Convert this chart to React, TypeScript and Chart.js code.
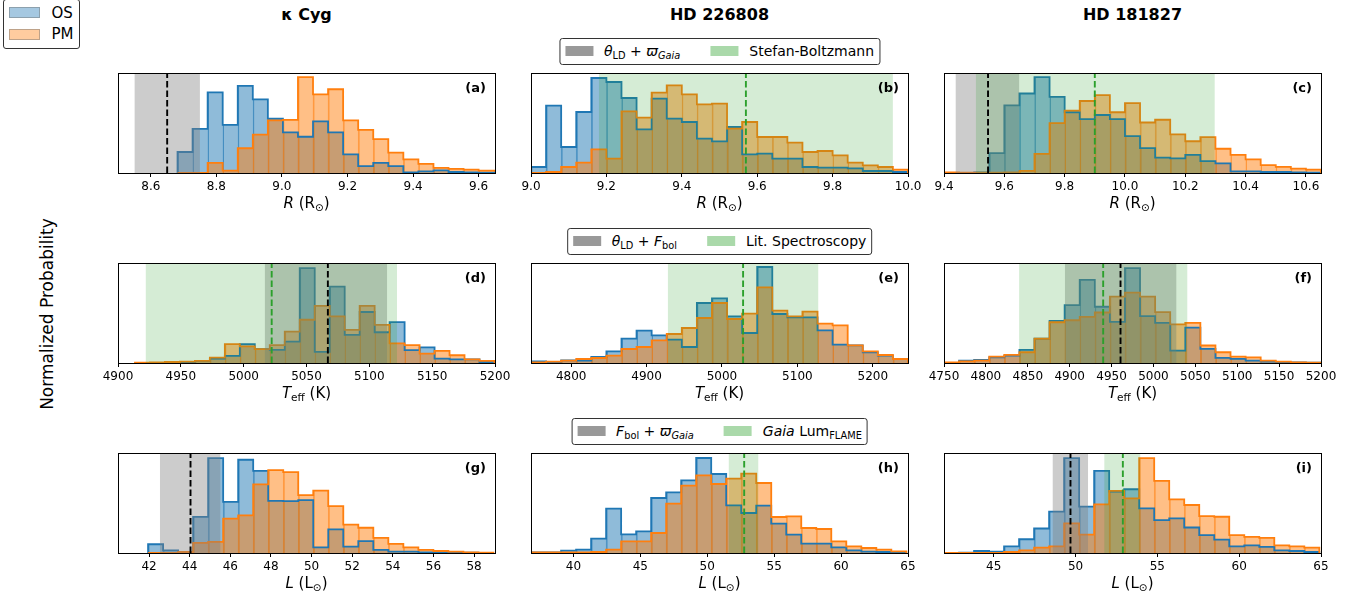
import React, { useEffect, useRef } from "react";
import { Chart, registerables } from "chart.js";

Chart.register(...registerables);

const FONT = "'DejaVu Sans', 'Liberation Sans', sans-serif";
const BLUE = "#1f77b4";
const ORANGE = "#ff7f0e";
const BLUE_FILL = "rgba(31,119,180,0.5)";
const ORANGE_FILL = "rgba(255,127,14,0.5)";
const BLUE_SEAM = "rgba(31,119,180,0.75)";
const ORANGE_SEAM = "rgba(255,127,14,0.75)";
const GRAY_BAND = "rgba(128,128,128,0.4)";
const GREEN_BAND = "rgba(44,160,44,0.2)";
const GREEN_LINE = "#2ca02c";

// ---------------- data ----------------
const STAR_NAMES = ["κ Cyg", "HD 226808", "HD 181827"];
const PANEL_LABELS = ["(a)", "(b)", "(c)", "(d)", "(e)", "(f)", "(g)", "(h)", "(i)"];

// (a) kappa Cyg radius
const A_BIN0 = 8.6816;
const A_BINW = 0.04592;
const A_OS = [62, 130, 238, 142, 257, 217, 160, 120, 107, 152, 120, 55, 20, 30, 20, 2, 5, 8, 3, 2, 1, 1];
const A_PM = [0, 0, 30, 7, 73, 113, 155, 157, 283, 232, 247, 155, 127, 100, 60, 40, 27, 15, 12, 10, 7, 7];
const A_XLIM = [8.5, 9.65];
const A_TICKS = [8.6, 8.8, 9.0, 9.2, 9.4, 9.6];
const A_YMAX = 295;
const A_GRAY = [8.55, 8.75];
const A_GRAY_MID = 8.65;

// (b) HD 226808 radius
const B_BIN0 = 9.0;
const B_BINW = 0.04;
const B_OS = [18, 202, 78, 183, 285, 273, 225, 131, 223, 163, 153, 103, 95, 138, 56, 58, 43, 43, 18, 16, 16, 14, 6, 6, 3];
const B_PM = [0, 3, 18, 31, 71, 43, 185, 166, 241, 263, 236, 206, 208, 133, 153, 108, 108, 91, 63, 66, 53, 31, 23, 18, 10];
const B_XLIM = [9.0, 10.0];
const B_TICKS = [9.0, 9.2, 9.4, 9.6, 9.8, 10.0];
const B_YMAX = 300;
const B_GREEN = [9.18, 9.96];
const B_GREEN_MID = 9.57;

// (c) HD 181827 radius
const C_BIN0 = 9.4;
const C_BINW = 0.05;
const C_OS = [0, 0, 2, 58, 198, 233, 281, 223, 178, 158, 170, 158, 108, 73, 45, 43, 53, 35, 28, 5, 5, 3, 3, 2, 1];
const C_PM = [2, 1, 1, 1, 2, 6, 56, 146, 183, 211, 228, 178, 205, 148, 156, 113, 93, 105, 71, 53, 40, 23, 18, 13, 10];
const C_XLIM = [9.4, 10.65];
const C_TICKS = [9.4, 9.6, 9.8, 10.0, 10.2, 10.4, 10.6];
const C_YMAX = 293;
const C_GRAY = [9.438, 9.65];
const C_GRAY_MID = 9.546;
const C_GREEN = [9.505, 10.298];
const C_GREEN_MID = 9.9;

// (d) kappa Cyg Teff
const D_BIN0 = 4913.5;
const D_BINW = 11.92;
const D_OS = [0, 0, 1, 3, 6, 13, 21, 56, 41, 39, 63, 281, 33, 226, 83, 151, 91, 121, 38, 46, 13, 11, 11, 3];
const D_PM = [1, 2, 3, 4, 6, 16, 56, 49, 41, 53, 93, 128, 169, 138, 98, 169, 113, 58, 53, 28, 36, 23, 11, 6];
const D_XLIM = [4900, 5200];
const D_TICKS = [4900, 4950, 5000, 5050, 5100, 5150, 5200];
const D_YMAX = 296;
const D_GRAY = [5016.7, 5114.2];
const D_GRAY_MID = 5067;
const D_GREEN = [4921.9, 5122.1];
const D_GREEN_MID = 5022.3;

// (e) HD 226808 Teff
const E_BIN0 = 4746.7;
const E_BINW = 20;
const E_OS = [5, 3, 8, 7, 18, 35, 73, 97, 83, 70, 48, 180, 194, 140, 90, 288, 147, 137, 137, 98, 55, 53, 32, 22, 12];
const E_PM = [2, 4, 7, 12, 15, 22, 42, 48, 68, 87, 105, 135, 180, 132, 148, 227, 157, 140, 154, 118, 113, 53, 35, 24, 12];
const E_XLIM = [4746.7, 5246.7];
const E_TICKS = [4800, 4900, 5000, 5100, 5200];
const E_YMAX = 300;
const E_GREEN = [4928, 5128];
const E_GREEN_MID = 5028;

// (f) HD 181827 Teff
const F_BIN0 = 4750;
const F_BINW = 18;
const F_OS = [0, 7, 9, 17, 22, 39, 72, 125, 172, 247, 167, 122, 282, 139, 119, 37, 105, 42, 15, 12, 7, 4, 2, 2, 1];
const F_PM = [2, 5, 7, 19, 24, 32, 72, 121, 127, 137, 150, 197, 209, 197, 151, 115, 119, 52, 32, 19, 17, 7, 4, 2, 1];
const F_XLIM = [4750, 5200];
const F_TICKS = [4750, 4800, 4850, 4900, 4950, 5000, 5050, 5100, 5150, 5200];
const F_YMAX = 297;
const F_GRAY = [4894.2, 5027.6];
const F_GRAY_MID = 4960.7;
const F_GREEN = [4839.6, 5040.7];
const F_GREEN_MID = 4940;

// (g) kappa Cyg luminosity
const G_BIN0 = 41.951;
const G_BINW = 0.7392;
const G_OS = [26, 8, 3, 107, 282, 152, 277, 244, 155, 154, 157, 17, 70, 19, 35, 9, 4, 4, 2, 2, 1, 1, 0];
const G_PM = [0, 0, 3, 30, 33, 102, 112, 204, 246, 240, 172, 185, 139, 84, 75, 45, 27, 17, 9, 6, 4, 2, 1];
const G_XLIM = [40.47, 59.03];
const G_TICKS = [42, 44, 46, 48, 50, 52, 54, 56, 58];
const G_YMAX = 297;
const G_GRAY = [42.53, 45.52];
const G_GRAY_MID = 44.04;

// (h) HD 226808 luminosity
const H_BIN0 = 36.835;
const H_BINW = 1.1216;
const H_OS = [2, 2, 7, 10, 43, 133, 56, 65, 165, 182, 218, 285, 237, 143, 120, 142, 88, 55, 28, 28, 17, 8, 4, 3, 2];
const H_PM = [2, 2, 2, 2, 3, 10, 35, 35, 60, 148, 202, 233, 207, 223, 238, 210, 108, 110, 75, 72, 35, 20, 15, 10, 5];
const H_XLIM = [36.83, 65.0];
const H_TICKS = [40, 45, 50, 55, 60, 65];
const H_YMAX = 300;
const H_GREEN = [51.59, 53.83];
const H_GREEN_MID = 52.76;

// (i) HD 181827 luminosity
const I_BIN0 = 41.962;
const I_BINW = 0.9174;
const I_OS = [0, 1, 6, 4, 20, 41, 73, 123, 283, 138, 245, 183, 190, 133, 98, 103, 76, 53, 40, 20, 23, 18, 8, 6, 3];
const I_PM = [0, 0, 0, 0, 3, 8, 16, 20, 88, 55, 145, 185, 163, 283, 215, 160, 143, 110, 108, 53, 48, 45, 23, 20, 16];
const I_XLIM = [41.96, 65.0];
const I_TICKS = [45, 50, 55, 60, 65];
const I_YMAX = 298;
const I_GRAY = [48.59, 50.77];
const I_GRAY_MID = 49.69;
const I_GREEN = [51.75, 53.97];
const I_GREEN_MID = 52.89;

type PanelCfg = {
  bin0: number; binw: number; os: number[]; pm: number[];
  xlim: number[]; ticks: number[]; dec: number; ymax: number;
  gray?: number[]; grayMid?: number; green?: number[]; greenMid?: number;
};

const PANELS: PanelCfg[] = [
  { bin0: A_BIN0, binw: A_BINW, os: A_OS, pm: A_PM, xlim: A_XLIM, ticks: A_TICKS, dec: 1, ymax: A_YMAX, gray: A_GRAY, grayMid: A_GRAY_MID },
  { bin0: B_BIN0, binw: B_BINW, os: B_OS, pm: B_PM, xlim: B_XLIM, ticks: B_TICKS, dec: 1, ymax: B_YMAX, green: B_GREEN, greenMid: B_GREEN_MID },
  { bin0: C_BIN0, binw: C_BINW, os: C_OS, pm: C_PM, xlim: C_XLIM, ticks: C_TICKS, dec: 1, ymax: C_YMAX, gray: C_GRAY, grayMid: C_GRAY_MID, green: C_GREEN, greenMid: C_GREEN_MID },
  { bin0: D_BIN0, binw: D_BINW, os: D_OS, pm: D_PM, xlim: D_XLIM, ticks: D_TICKS, dec: 0, ymax: D_YMAX, gray: D_GRAY, grayMid: D_GRAY_MID, green: D_GREEN, greenMid: D_GREEN_MID },
  { bin0: E_BIN0, binw: E_BINW, os: E_OS, pm: E_PM, xlim: E_XLIM, ticks: E_TICKS, dec: 0, ymax: E_YMAX, green: E_GREEN, greenMid: E_GREEN_MID },
  { bin0: F_BIN0, binw: F_BINW, os: F_OS, pm: F_PM, xlim: F_XLIM, ticks: F_TICKS, dec: 0, ymax: F_YMAX, gray: F_GRAY, grayMid: F_GRAY_MID, green: F_GREEN, greenMid: F_GREEN_MID },
  { bin0: G_BIN0, binw: G_BINW, os: G_OS, pm: G_PM, xlim: G_XLIM, ticks: G_TICKS, dec: 0, ymax: G_YMAX, gray: G_GRAY, grayMid: G_GRAY_MID },
  { bin0: H_BIN0, binw: H_BINW, os: H_OS, pm: H_PM, xlim: H_XLIM, ticks: H_TICKS, dec: 0, ymax: H_YMAX, green: H_GREEN, greenMid: H_GREEN_MID },
  { bin0: I_BIN0, binw: I_BINW, os: I_OS, pm: I_PM, xlim: I_XLIM, ticks: I_TICKS, dec: 0, ymax: I_YMAX, gray: I_GRAY, grayMid: I_GRAY_MID, green: I_GREEN, greenMid: I_GREEN_MID },
];

// ---------------- layout ----------------
const COL_LEFT = [118, 531, 944];
const ROW_TOP = [73, 263, 453];
const PLOT_W = 377;
const PLOT_H = 100;
const PAD_X = 34;
const PAD_T = 10;
const AXIS_H = 26;

const framePlugin = {
  id: "frame",
  afterDraw(chart: any) {
    const { ctx, chartArea: a } = chart;
    ctx.save();
    ctx.strokeStyle = "#000";
    ctx.lineWidth = 1;
    ctx.strokeRect(a.left + 0.5, a.top + 0.5, a.right - a.left, a.bottom - a.top);
    ctx.restore();
  },
};

function Panel({ cfg, left, top }: { cfg: PanelCfg; left: number; top: number }) {
  const ref = useRef<HTMLCanvasElement | null>(null);
  useEffect(() => {
    const edge = (i: number) => cfg.bin0 + i * cfg.binw;
    const bars = (vals: number[]) => vals.map((v, i) => ({ x: edge(i) + cfg.binw / 2, y: v }));
    const steps = (vals: number[]) => [
      { x: edge(0), y: 0 },
      ...vals.map((v, i) => ({ x: edge(i), y: v })),
      { x: edge(vals.length), y: 0 },
    ];
    const barCommon = {
      type: "bar",
      borderWidth: { left: 1, right: 0, top: 0, bottom: 0 },
      borderSkipped: false,
      barPercentage: 1,
      categoryPercentage: 1,
      grouped: false,
    };
    const lineCommon = { type: "line", pointRadius: 0, tension: 0, fill: false };
    const datasets: any[] = [
      { ...barCommon, data: bars(cfg.os), backgroundColor: BLUE_FILL, borderColor: BLUE_SEAM, order: 10 },
      { ...barCommon, data: bars(cfg.pm), backgroundColor: ORANGE_FILL, borderColor: ORANGE_SEAM, order: 9 },
      { ...lineCommon, data: steps(cfg.os), stepped: true, borderColor: BLUE, borderWidth: 1.8, order: 8 },
      { ...lineCommon, data: steps(cfg.pm), stepped: true, borderColor: ORANGE, borderWidth: 1.8, order: 7 },
    ];
    if (cfg.gray) {
      datasets.push({ ...lineCommon, data: cfg.gray.map((x) => ({ x, y: cfg.ymax })), fill: "origin", backgroundColor: GRAY_BAND, borderWidth: 0, order: 6 });
      datasets.push({ ...lineCommon, data: [{ x: cfg.grayMid, y: 0 }, { x: cfg.grayMid, y: cfg.ymax }], borderColor: "#000", borderWidth: 1.9, borderDash: [6.5, 3], order: 2 });
    }
    if (cfg.green) {
      datasets.push({ ...lineCommon, data: cfg.green.map((x) => ({ x, y: cfg.ymax })), fill: "origin", backgroundColor: GREEN_BAND, borderWidth: 0, order: 5 });
      datasets.push({ ...lineCommon, data: [{ x: cfg.greenMid, y: 0 }, { x: cfg.greenMid, y: cfg.ymax }], borderColor: GREEN_LINE, borderWidth: 1.9, borderDash: [6.5, 3], order: 1 });
    }
    const chart = new Chart(ref.current as HTMLCanvasElement, {
      type: "bar",
      data: { datasets },
      options: {
        animation: false,
        responsive: false,
        maintainAspectRatio: false,
        events: [],
        layout: { padding: { left: PAD_X, right: PAD_X, top: PAD_T, bottom: 0 } },
        plugins: { legend: { display: false }, tooltip: { enabled: false }, title: { display: false } },
        scales: {
          x: {
            type: "linear",
            min: cfg.xlim[0],
            max: cfg.xlim[1],
            offset: false,
            afterBuildTicks: (s: any) => {
              s.ticks = cfg.ticks.map((v) => ({ value: v }));
            },
            afterFit: (s: any) => {
              s.height = AXIS_H;
            },
            ticks: {
              autoSkip: false,
              maxRotation: 0,
              minRotation: 0,
              padding: 3,
              color: "#000",
              font: { family: FONT, size: 12 },
              callback: (v: any) => Number(v).toFixed(cfg.dec),
            },
            grid: {
              display: true,
              offset: false,
              drawOnChartArea: false,
              drawTicks: true,
              tickLength: 4,
              color: "#000",
              lineWidth: 1,
            },
            border: { display: false },
          },
          y: { type: "linear", display: false, min: 0, max: cfg.ymax },
        },
      } as any,
      plugins: [framePlugin],
    } as any);
    return () => chart.destroy();
  }, [cfg]);
  const w = PLOT_W + 2 * PAD_X;
  const h = PAD_T + PLOT_H + AXIS_H;
  return (
    <canvas
      ref={ref}
      width={w}
      height={h}
      style={{ position: "absolute", left: left - PAD_X, top: top - PAD_T, width: w, height: h }}
    />
  );
}

const Sub = ({ children }: { children: any }) => (
  <span style={{ fontSize: "0.7em", position: "relative", top: "0.3em" }}>{children}</span>
);

const XLABELS = [
  <span><i>R</i> (R<Sub>⊙</Sub>)</span>,
  <span><i>T</i><Sub>eff</Sub> (K)</span>,
  <span><i>L</i> (L<Sub>⊙</Sub>)</span>,
];

const LEGEND_ROWS = [
  [
    { color: "#999999", label: <span><i>θ</i><Sub>LD</Sub> + <i>ϖ</i><Sub><i>Gaia</i></Sub></span> },
    { color: "#aad9aa", label: <span>Stefan-Boltzmann</span> },
  ],
  [
    { color: "#999999", label: <span><i>θ</i><Sub>LD</Sub> + <i>F</i><Sub>bol</Sub></span> },
    { color: "#aad9aa", label: <span>Lit. Spectroscopy</span> },
  ],
  [
    { color: "#999999", label: <span><i>F</i><Sub>bol</Sub> + <i>ϖ</i><Sub><i>Gaia</i></Sub></span> },
    { color: "#aad9aa", label: <span><i>Gaia</i> Lum<Sub>FLAME</Sub></span> },
  ],
];

function MidLegend({ items, top }: { items: any[]; top: number }) {
  return (
    <div
      style={{
        position: "absolute",
        left: COL_LEFT[1] + PLOT_W / 2,
        top,
        transform: "translateX(-50%)",
        height: 27,
        boxSizing: "border-box",
        border: "1px solid #333",
        borderRadius: 3,
        background: "#fff",
        display: "flex",
        alignItems: "center",
        padding: "0 5px 0 5px",
        fontSize: 14,
        whiteSpace: "nowrap",
        zIndex: 2,
      }}
    >
      {items.map((it, i) => (
        <div key={i} style={{ display: "flex", alignItems: "center", marginLeft: i ? 30 : 0 }}>
          <span style={{ display: "inline-block", width: 28, height: 10, background: it.color, marginRight: 11 }} />
          <span style={{ lineHeight: 1 }}>{it.label}</span>
        </div>
      ))}
    </div>
  );
}

export default function App() {
  return (
    <div
      style={{
        position: "fixed",
        left: 0,
        top: 0,
        width: 1363,
        height: 602,
        background: "#fff",
        fontFamily: FONT,
        color: "#000",
        overflow: "hidden",
      }}
    >
      {/* top-left legend */}
      <div
        style={{
          position: "absolute",
          left: 3,
          top: -1,
          width: 77,
          height: 50,
          boxSizing: "border-box",
          border: "1px solid #333",
          borderRadius: 3,
          background: "#fff",
          fontSize: 15,
          zIndex: 2,
        }}
      >
        {[
          { c: "#a5c8e1", t: "OS", y: 7 },
          { c: "#ffcc9f", t: "PM", y: 28.5 },
        ].map((r) => (
          <React.Fragment key={r.t}>
            <span
              style={{
                position: "absolute",
                left: 5,
                top: r.y,
                width: 31,
                height: 11,
                boxSizing: "border-box",
                background: r.c,
                border: "1px solid rgba(110,110,110,0.45)",
              }}
            />
            <span style={{ position: "absolute", left: 47.5, top: r.y - 1.5, lineHeight: 1 }}>{r.t}</span>
          </React.Fragment>
        ))}
      </div>

      {/* column titles */}
      {STAR_NAMES.map((n, c) => (
        <div
          key={n}
          style={{
            position: "absolute",
            left: COL_LEFT[c] + PLOT_W / 2,
            top: 7,
            transform: "translateX(-50%)",
            fontSize: 16,
            fontWeight: "bold",
            lineHeight: 1,
            whiteSpace: "nowrap",
          }}
        >
          {n}
        </div>
      ))}

      {/* y label */}
      <div
        style={{
          position: "absolute",
          left: 47,
          top: 314,
          transform: "translate(-50%, -50%) rotate(-90deg)",
          fontSize: 17,
          whiteSpace: "nowrap",
          lineHeight: 1,
        }}
      >
        Normalized Probability
      </div>

      {/* row legends */}
      {LEGEND_ROWS.map((items, r) => (
        <MidLegend key={r} items={items} top={ROW_TOP[r] - 35.5} />
      ))}

      {/* panels */}
      {PANELS.map((cfg, k) => {
        const r = Math.floor(k / 3);
        const c = k % 3;
        return <Panel key={k} cfg={cfg} left={COL_LEFT[c]} top={ROW_TOP[r]} />;
      })}

      {/* panel letters */}
      {PANEL_LABELS.map((t, k) => {
        const r = Math.floor(k / 3);
        const c = k % 3;
        return (
          <div
            key={t}
            style={{
              position: "absolute",
              left: COL_LEFT[c] + PLOT_W - 9,
              top: ROW_TOP[r] + 7.6,
              transform: "translateX(-100%)",
              fontSize: 13,
              fontWeight: "bold",
              lineHeight: 1,
              whiteSpace: "nowrap",
              zIndex: 3,
            }}
          >
            {t}
          </div>
        );
      })}

      {/* x labels */}
      {PANELS.map((_, k) => {
        const r = Math.floor(k / 3);
        const c = k % 3;
        return (
          <div
            key={"xl" + k}
            style={{
              position: "absolute",
              left: COL_LEFT[c] + PLOT_W / 2,
              top: ROW_TOP[r] + PLOT_H + 23,
              transform: "translateX(-50%)",
              fontSize: 15,
              lineHeight: 1,
              whiteSpace: "nowrap",
            }}
          >
            {XLABELS[r]}
          </div>
        );
      })}
    </div>
  );
}
